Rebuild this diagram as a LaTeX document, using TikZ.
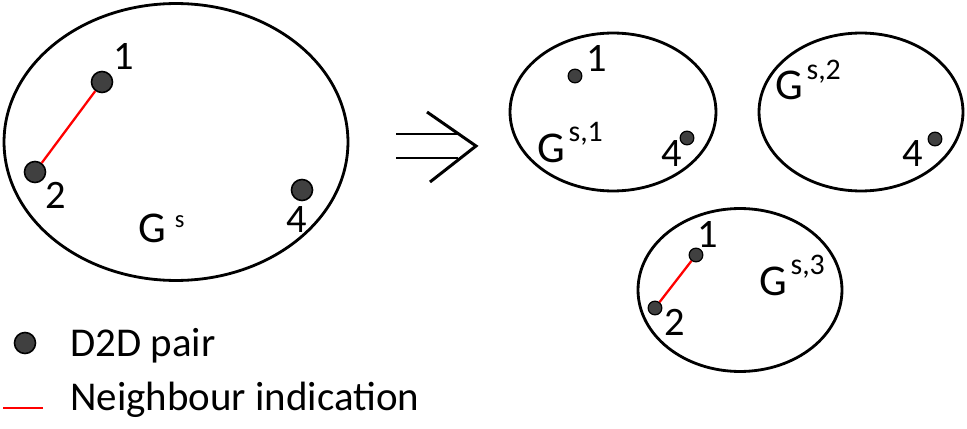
\documentclass[tikz,border=0pt]{standalone}
\usepackage{fontspec}
\setmainfont{Carlito}
\usetikzlibrary{positioning, shapes.geometric}
\newcommand{\gsup}[1]{G\kern2pt\raisebox{11.5pt}{\fontsize{17}{18}\selectfont #1}}
\tikzset{
    graph_set/.style={ellipse, draw, line width=1.6pt, inner sep=0pt},
    pair_big/.style={circle, draw, line width=0.9pt, fill=black!75, inner sep=0pt, minimum size=12pt},
    pair_small/.style={circle, draw, line width=0.7pt, fill=black!75, inner sep=0pt, minimum size=7.8pt},
    neighbour/.style={red, line width=1.3pt},
    num_label/.style={inner sep=0pt, anchor=base, font=\fontsize{23}{26}\selectfont},
    set_label/.style={inner sep=0pt, anchor=base west, font=\fontsize{25}{28}\selectfont},
    legend_text/.style={inner sep=0pt, anchor=base west, font=\fontsize{23.3}{26}\selectfont},
    implies/.style={line width=1.7pt}
}

\begin{document}
\begin{tikzpicture}[x=0.02cm, y=-0.02cm]
    \useasboundingbox (0,0) rectangle (967,429);
    % original graph
    \node (g_s) [graph_set, minimum width=6.88cm, minimum height=5.54cm] at (176,142) {};
    \node (p1) [pair_big] at (102,82) {};
    \node (p2) [pair_big] at (35,172) {};
    \node (p4) [pair_big] at (302,190) {};
    \draw [neighbour] (p1) -- (p2);
    \node (l1) [num_label] at (124,70) {1};
    \node (l2) [num_label] at (56,208) {2};
    \node (l4) [num_label] at (297,232) {4};
    \node (t_s) [set_label] at (138,242) {G\kern5pt\raisebox{8.5pt}{\fontsize{14}{15}\selectfont s}};

    % split arrow
    \coordinate (a1) at (396,134);
    \coordinate (a2) at (458,134);
    \coordinate (a3) at (396,158);
    \coordinate (a4) at (458,158);
    \coordinate (h1) at (427,112);
    \coordinate (tip) at (476,146);
    \coordinate (h2) at (430,182);
    \draw [implies] (a1) -- (a2);
    \draw [implies] (a3) -- (a4);
    \draw [implies] (h1) -- (tip) -- (h2);

    % sub-graphs
    \node (g_s1) [graph_set, minimum width=4.12cm, minimum height=3.16cm] at (613,112) {};
    \node (q1) [pair_small] at (575,76) {};
    \node (q4) [pair_small] at (687,138) {};
    \node (m1) [num_label] at (597,72) {1};
    \node (m4) [num_label] at (672,167) {4};
    \node (t_s1) [set_label] at (537,162) {\gsup{s,1}};

    \node (g_s2) [graph_set, minimum width=4.08cm, minimum height=3.16cm] at (861,112) {};
    \node (r4) [pair_small] at (935,139) {};
    \node (n4) [num_label] at (913,167) {4};
    \node (t_s2) [set_label] at (775,100) {\gsup{s,2}};

    \node (g_s3) [graph_set, minimum width=4.08cm, minimum height=3.26cm] at (740,290) {};
    \node (u1) [pair_small] at (696,255) {};
    \node (u2) [pair_small] at (655,308) {};
    \draw [neighbour] (u1) -- (u2);
    \node (k1) [num_label] at (708,247) {1};
    \node (k2) [num_label] at (675,335) {2};
    \node (t_s3) [set_label] at (759,295) {\gsup{s,3}};

    % legend
    \node (leg_pair) [pair_big] at (25,343) {};
    \node (leg_pair_t) [legend_text] at (70,356) {D2D pair};
    \coordinate (leg_a) at (3,408);
    \coordinate (leg_b) at (43,408);
    \draw [neighbour, line width=1.7pt] (leg_a) -- (leg_b);
    \node (leg_line_t) [legend_text] at (70,410) {Neighbour indication};
\end{tikzpicture}
\end{document}
